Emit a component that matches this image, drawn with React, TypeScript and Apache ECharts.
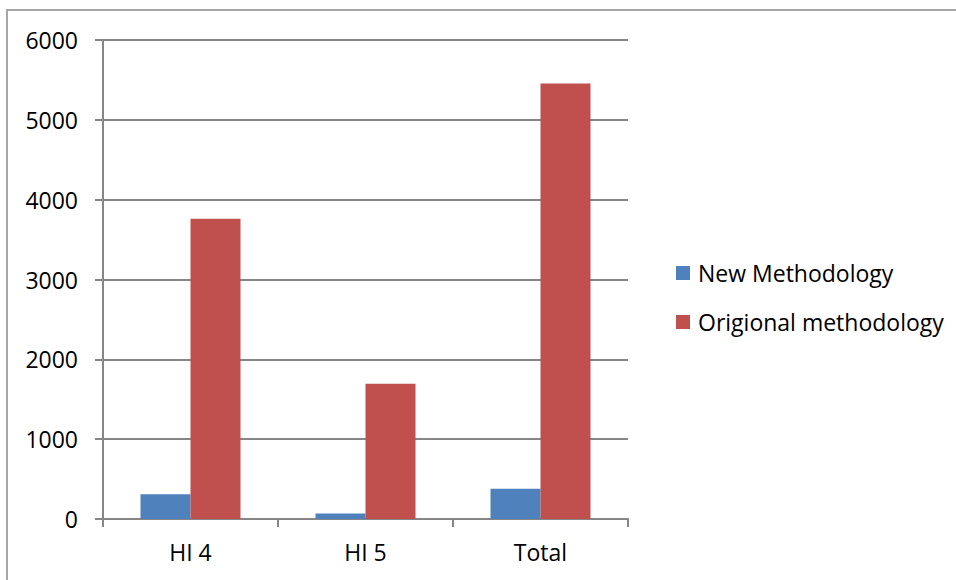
import React, { useEffect, useRef } from "react";
import * as echarts from "echarts";

const categories = ["HI 4", "HI 5", "Total"];
const newMethodology = [310, 70, 380];
const origionalMethodology = [3760, 1695, 5455];
const seriesNames = ["New Methodology", "Origional methodology"];

export default function App() {
  const ref = useRef<HTMLDivElement>(null);
  useEffect(() => {
    document.body.style.margin = "0";
    const chart = echarts.init(ref.current!, null, { renderer: "svg" });
    const font = "'Open Sans', 'Noto Sans', sans-serif";
    chart.setOption({
      animation: false,
      backgroundColor: "#ffffff",
      graphic: [
        {
          type: "rect",
          shape: { x: 7, y: 10, width: 1000, height: 1000 },
          style: { fill: "none", stroke: "#a6a6a6", lineWidth: 2 },
          silent: true,
        },
      ],
      grid: { left: 103, right: 328, top: 40, bottom: 61 },
      legend: {
        orient: "vertical",
        left: 671,
        top: 256,
        itemWidth: 14,
        itemHeight: 14,
        itemGap: 25,
        icon: "rect",
        textStyle: { fontFamily: font, fontSize: 23, color: "#000", lineHeight: 24, padding: [0, 0, 0, 3] },
        data: seriesNames,
      },
      xAxis: {
        type: "category",
        data: categories,
        axisLine: { lineStyle: { color: "#868686", width: 2 } },
        axisTick: { show: true, length: 8, lineStyle: { color: "#868686", width: 2 } },
        axisLabel: { fontFamily: font, fontSize: 23, color: "#000", margin: 21 },
      },
      yAxis: {
        type: "value",
        min: 0,
        max: 6000,
        interval: 1000,
        axisLine: { show: true, lineStyle: { color: "#868686", width: 2 } },
        axisTick: { show: true, length: 8, lineStyle: { color: "#868686", width: 2 } },
        splitLine: { lineStyle: { color: "#868686", width: 2 } },
        axisLabel: {
          fontFamily: font,
          fontSize: 23,
          color: "#000",
          margin: 25,
          formatter: (v: number) => String(v),
        },
      },
      series: [
        {
          name: seriesNames[0],
          type: "bar",
          data: newMethodology,
          barWidth: 50,
          barGap: "0%",
          itemStyle: { color: "#4F81BD" },
        },
        {
          name: seriesNames[1],
          type: "bar",
          data: origionalMethodology,
          barWidth: 50,
          barGap: "0%",
          itemStyle: { color: "#C0504D" },
        },
      ],
    });
    return () => chart.dispose();
  }, []);
  return <div ref={ref} style={{ width: 956, height: 580 }} />;
}
